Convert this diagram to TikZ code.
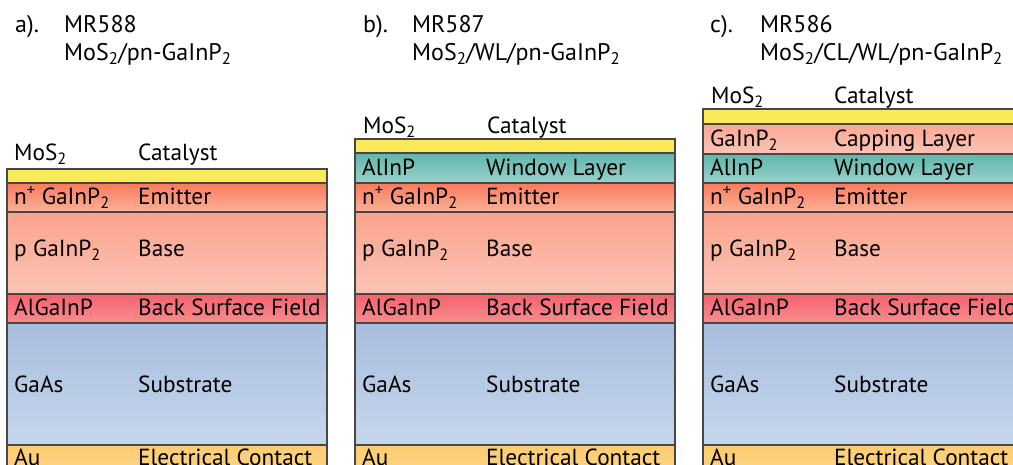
\documentclass[tikz,border=0pt]{standalone}
\usepackage{fontspec}
\setmainfont{PT Sans}
\definecolor{cat}{RGB}{250,234,90}
\definecolor{emT}{RGB}{250,122,92}
\definecolor{emB}{RGB}{250,178,152}
\definecolor{baT}{RGB}{250,163,140}
\definecolor{baB}{RGB}{252,196,182}
\definecolor{bsT}{RGB}{245,98,110}
\definecolor{bsB}{RGB}{250,140,142}
\definecolor{suT}{RGB}{168,190,222}
\definecolor{suB}{RGB}{198,214,236}
\definecolor{auT}{RGB}{252,204,112}
\definecolor{auB}{RGB}{252,214,140}
\definecolor{wiT}{RGB}{96,182,172}
\definecolor{wiB}{RGB}{152,210,202}
\definecolor{caT}{RGB}{250,168,148}
\definecolor{caB}{RGB}{252,196,182}
% #1 name, #2 left x, #3 top y, #4 bottom y, #5 top colour, #6 bottom colour, #7 left text, #8 right text, #9 baseline y
\newcommand\lyr[9]{%
  \path[lay, top color=#5, bottom color=#6] (#2,#3) rectangle (#2+320,#4);
  \node[lt] (#1l) at (#2+7,#9) {#7};
  \node[lt] (#1r) at (#2+131,#9) {#8};
}
% #1 name, #2 left x
\newcommand\commonstack[2]{%
  \lyr{#1em}{#2}{183}{212}{emT}{emB}{n\textsuperscript{+} GaInP\textsubscript{2}}{Emitter}{205}
  \lyr{#1ba}{#2}{212}{294}{baT}{baB}{p GaInP\textsubscript{2}}{Base}{257}
  \lyr{#1bs}{#2}{294}{323}{bsT}{bsB}{AlGaInP}{Back Surface Field}{316}
  \lyr{#1su}{#2}{323}{445}{suT}{suB}{GaAs}{Substrate}{392}
  \lyr{#1au}{#2}{445}{480}{auT}{auB}{Au}{Electrical Contact}{465}
}
\begin{document}
\begin{tikzpicture}[x=1pt,y=-1pt,
  every node/.style={font=\fontsize{24}{28}\selectfont, inner sep=0pt, anchor=base west},
  lt/.style={font=\fontsize{23.3}{28}\selectfont},
  lay/.style={draw=black!72, line width=1.1pt}]
\useasboundingbox (0,0) rectangle (1013,465);
\clip (0,0) rectangle (1013,465);

% ---------- panel a ----------
\node (ah1) at (15,33) {a).};
\node (ah2) at (64,33) {MR588};
\node (ah3) at (64,61) {MoS\textsubscript{2}/pn-GaInP\textsubscript{2}};
\node[lt] (amo) at (14,161) {MoS\textsubscript{2}};
\node[lt] (aca) at (138,161) {Catalyst};
\path[lay, fill=cat] (7,169) rectangle (327,183);
\commonstack{a}{7}

% ---------- panel b ----------
\node (bh1) at (363,33) {b).};
\node (bh2) at (412,33) {MR587};
\node (bh3) at (412,61) {MoS\textsubscript{2}/WL/pn-GaInP\textsubscript{2}};
\node[lt] (bmo) at (363,134) {MoS\textsubscript{2}};
\node[lt] (bca) at (487,134) {Catalyst};
\path[lay, fill=cat] (355,139) rectangle (675,153);
\lyr{bwi}{355}{153}{183}{wiT}{wiB}{AlInP}{Window Layer}{176}
\commonstack{b}{355}

% ---------- panel c ----------
\node (ch1) at (710,33) {c).};
\node (ch2) at (760,33) {MR586};
\node (ch3) at (760,61) {MoS\textsubscript{2}/CL/WL/pn-GaInP\textsubscript{2}};
\node[lt] (cmo) at (711,104) {MoS\textsubscript{2}};
\node[lt] (cca) at (834,104) {Catalyst};
\path[lay, fill=cat] (703,109) rectangle (1023,124);
\lyr{ccl}{703}{124}{154}{caT}{caB}{GaInP\textsubscript{2}}{Capping Layer}{147}
\lyr{cwi}{703}{154}{183}{wiT}{wiB}{AlInP}{Window Layer}{176}
\commonstack{c}{703}
\end{tikzpicture}
\end{document}
